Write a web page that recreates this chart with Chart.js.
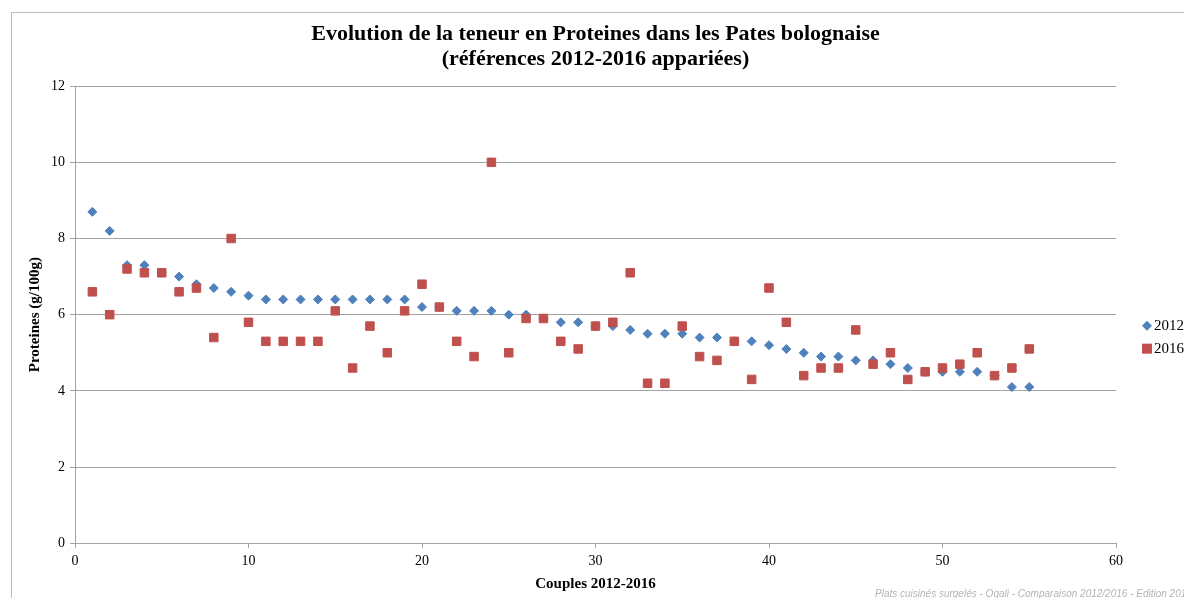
<!DOCTYPE html>
<html lang="fr">
<head>
<meta charset="utf-8">
<title>Proteines - Pates bolognaise</title>
<script src="https://cdn.jsdelivr.net/npm/chart.js@4/dist/chart.umd.min.js"></script>
<style>
  html, body { margin: 0; padding: 0; background: #fff; overflow: hidden; }
  #wrap { position: relative; width: 1184px; height: 598px; }
  #frame {
    position: absolute; left: 11px; top: 12px; width: 1200px; height: 600px;
    border-left: 1px solid #bdbdbd; border-top: 1px solid #bdbdbd;
  }
  #source {
    position: absolute; left: 875px; top: 588px; white-space: nowrap;
    font: italic 10px "Liberation Sans", sans-serif; color: #b4b4b4;
  }
</style>
</head>
<body>
<div id="wrap">
  <div id="frame"></div>
  <canvas id="myChart" width="1184" height="598"></canvas>
  <div id="source">Plats cuisinés surgelés - Oqali - Comparaison 2012/2016 - Edition 2017</div>
</div>
<script>
// couples de références 2012/2016
const couples = [1, 2, 3, 4, 5, 6, 7, 8, 9, 10, 11, 12, 13, 14, 15, 16, 17, 18, 19, 20,
  21, 22, 23, 24, 25, 26, 27, 28, 29, 30, 31, 32, 33, 34, 35, 36, 37, 38, 39, 40,
  41, 42, 43, 44, 45, 46, 47, 48, 49, 50, 51, 52, 53, 54, 55];

// teneur en proteines (g/100g)
const proteines2012 = [8.7, 8.2, 7.3, 7.3, 7.1, 7.0, 6.8, 6.7, 6.6, 6.5,
  6.4, 6.4, 6.4, 6.4, 6.4, 6.4, 6.4, 6.4, 6.4, 6.2,
  6.2, 6.1, 6.1, 6.1, 6.0, 6.0, 5.9, 5.8, 5.8, 5.7,
  5.7, 5.6, 5.5, 5.5, 5.5, 5.4, 5.4, 5.3, 5.3, 5.2,
  5.1, 5.0, 4.9, 4.9, 4.8, 4.8, 4.7, 4.6, 4.5, 4.5,
  4.5, 4.5, 4.4, 4.1, 4.1];
const proteines2016 = [6.6, 6.0, 7.2, 7.1, 7.1, 6.6, 6.7, 5.4, 8.0, 5.8,
  5.3, 5.3, 5.3, 5.3, 6.1, 4.6, 5.7, 5.0, 6.1, 6.8,
  6.2, 5.3, 4.9, 10.0, 5.0, 5.9, 5.9, 5.3, 5.1, 5.7,
  5.8, 7.1, 4.2, 4.2, 5.7, 4.9, 4.8, 5.3, 4.3, 6.7,
  5.8, 4.4, 4.6, 4.6, 5.6, 4.7, 5.0, 4.3, 4.5, 4.6,
  4.7, 5.0, 4.4, 4.6, 5.1];

const xTicks = [0, 10, 20, 30, 40, 50, 60];
const yTicks = [0, 2, 4, 6, 8, 10, 12];

const serif = '"Liberation Serif", "DejaVu Serif", serif';
const blue = '#4f81bd';
const red = '#c0504d';
const gridGrey = '#a3a3a3';

function toPoints(values) {
  return couples.map((c, i) => ({ x: c, y: values[i] }));
}

// legende dessinee a droite de la zone de trace
const sideLegend = {
  id: 'sideLegend',
  afterDraw(chart) {
    const { ctx, chartArea } = chart;
    const x = chartArea.right + 31;
    const mid = (chartArea.top + chartArea.bottom) / 2;
    const y1 = mid + 11;
    const y2 = mid + 34;
    ctx.save();
    ctx.fillStyle = blue;
    ctx.beginPath();
    ctx.moveTo(x, y1 - 5);
    ctx.lineTo(x + 5, y1);
    ctx.lineTo(x, y1 + 5);
    ctx.lineTo(x - 5, y1);
    ctx.closePath();
    ctx.fill();
    ctx.fillStyle = red;
    ctx.fillRect(x - 5, y2 - 5, 10, 10);
    ctx.fillStyle = '#000';
    ctx.font = '15px ' + serif;
    ctx.textBaseline = 'middle';
    ctx.fillText('2012', x + 7, y1);
    ctx.fillText('2016', x + 7, y2);
    ctx.restore();
  }
};

const ctx = document.getElementById('myChart');

new Chart(ctx, {
  type: 'scatter',
  data: {
    datasets: [{
      label: '2012',
      data: toPoints(proteines2012),
      pointStyle: 'rectRot',
      pointRadius: 4.5,
      pointBackgroundColor: blue,
      pointBorderColor: blue,
      pointBorderWidth: 1,
      order: 1
    }, {
      label: '2016',
      data: toPoints(proteines2016),
      pointStyle: 'rect',
      pointRadius: 6,
      pointBackgroundColor: red,
      pointBorderColor: red,
      pointBorderWidth: 1,
      order: 0
    }]
  },
  options: {
    responsive: false,
    animation: false,
    layout: { padding: { left: 26, right: 68, top: 12, bottom: 5 } },
    plugins: {
      legend: { display: false },
      tooltip: { enabled: false },
      title: {
        display: true,
        fullSize: false,
        text: ['Evolution de la teneur en Proteines dans les Pates bolognaise',
               '(références 2012-2016 appariées)'],
        color: '#000',
        font: { family: serif, size: 22, weight: 'bold', lineHeight: 1.14 },
        padding: { top: 10, bottom: 14 }
      }
    },
    scales: {
      x: {
        type: 'linear',
        min: 0,
        max: 60,
        afterBuildTicks: scale => { scale.ticks = xTicks.map(v => ({ value: v })); },
        grid: { drawOnChartArea: false, color: gridGrey, tickLength: 5 },
        border: { color: gridGrey },
        ticks: { color: '#000', padding: 5, font: { family: serif, size: 14 } },
        title: {
          display: true,
          text: 'Couples 2012-2016',
          color: '#000',
          font: { family: serif, size: 15, weight: 'bold' },
          padding: { top: 0, bottom: 0 }
        }
      },
      y: {
        min: 0,
        max: 12,
        afterBuildTicks: scale => { scale.ticks = yTicks.map(v => ({ value: v })); },
        grid: { color: gridGrey, tickLength: 5 },
        border: { color: gridGrey },
        ticks: { color: '#000', padding: 5, font: { family: serif, size: 14 } },
        title: {
          display: true,
          text: 'Proteines (g/100g)',
          color: '#000',
          font: { family: serif, size: 15, weight: 'bold' },
          padding: { top: 0, bottom: 2 }
        }
      }
    }
  },
  plugins: [sideLegend]
});
</script>
</body>
</html>
